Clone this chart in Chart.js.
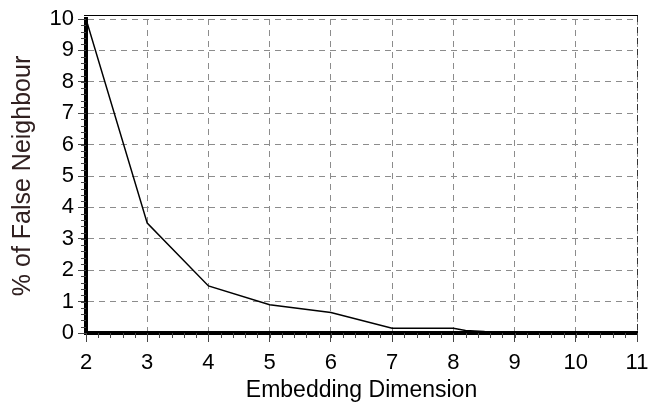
<!DOCTYPE html>
<html>
<head>
<meta charset="utf-8">
<script src="https://cdn.jsdelivr.net/npm/chart.js@4"></script>
<style>
html,body{margin:0;padding:0;background:#fff;}
#wrap{width:662px;height:405px;position:relative;}
</style>
</head>
<body>
<div id="wrap"><canvas id="c" width="662" height="405"></canvas></div>
<script>
// Data
const dimensions = [2, 3, 4, 5, 6, 7, 8, 8.2, 8.5, 8.6, 9, 10, 11];
const falseNeighbourPct = [10, 3.5, 1.5, 0.9, 0.65, 0.15, 0.15, 0.08, 0.05, 0, 0, 0, 0];
const xTickValues = [2, 3, 4, 5, 6, 7, 8, 9, 10, 11];
const yTickValues = [0, 1, 2, 3, 4, 5, 6, 7, 8, 9, 10];
const xTitle = "Embedding Dimension";
const yTitle = "% of False Neighbour";

const points = dimensions.map((d, i) => ({x: d, y: falseNeighbourPct[i]}));
const FONT = "'Liberation Sans', Arial, sans-serif";

const framePlugin = {
  id: 'frame',
  afterDraw(chart) {
    const ctx = chart.ctx;
    const xs = chart.scales.x, ys = chart.scales.y;
    const a = chart.chartArea;
    ctx.save();
    // top border
    ctx.strokeStyle = '#000';
    ctx.lineWidth = 1;
    ctx.beginPath();
    ctx.moveTo(a.left - 2, a.top - 3.5);
    ctx.lineTo(a.right + 1, a.top - 3.5);
    ctx.stroke();
    // right border, dashed dark
    ctx.strokeStyle = '#333';
    ctx.setLineDash([6, 5]);
    ctx.beginPath();
    ctx.moveTo(a.right + 0.5, a.top - 3);
    ctx.lineTo(a.right + 0.5, a.bottom);
    ctx.stroke();
    ctx.setLineDash([]);
    // minor ticks
    ctx.strokeStyle = '#444';
    ctx.lineWidth = 1;
    ctx.beginPath();
    for (let v = xs.min; v <= xs.max + 1e-9; v += 0.2) {
      const px = Math.round(xs.getPixelForValue(v)) + 0.5;
      ctx.moveTo(px, a.bottom);
      ctx.lineTo(px, a.bottom + 5);
    }
    for (let v = ys.min; v <= ys.max + 1e-9; v += 0.2) {
      const py = Math.round(ys.getPixelForValue(v)) + 0.5;
      ctx.moveTo(a.left, py);
      ctx.lineTo(a.left - 5, py);
    }
    ctx.stroke();
    ctx.restore();
  }
};

new Chart(document.getElementById('c'), {
  type: 'line',
  data: {
    datasets: [{
      data: points,
      borderColor: '#000',
      borderWidth: 1.5,
      pointRadius: 0,
      tension: 0,
      fill: false
    }]
  },
  options: {
    responsive: false,
    animation: false,
    events: [],
    layout: {padding: {top: 19, right: 25, left: 0, bottom: 0}},
    plugins: {legend: {display: false}, tooltip: {enabled: false}},
    scales: {
      x: {
        type: 'linear',
        min: 2, max: 11,
        afterBuildTicks: s => { s.ticks = xTickValues.map(v => ({value: v})); },
        afterFit: s => { s.height = 72; },
        ticks: {color: '#000', font: {family: FONT, size: 22}, padding: 8, maxRotation: 0, autoSkip: false},
        grid: {color: '#8c8c8c', lineWidth: 1, tickLength: 9, tickColor: '#444', tickBorderDash: [], drawOnChartArea: true},
        border: {color: '#000', width: 4, dash: [6, 5]},
        title: {display: true, text: xTitle, color: '#000', font: {family: FONT, size: 23}, padding: {top: 0, bottom: 1}}
      },
      y: {
        type: 'linear',
        min: 0, max: 10,
        afterBuildTicks: s => { s.ticks = yTickValues.map(v => ({value: v})); },
        afterFit: s => { s.width = 86; },
        ticks: {color: '#000', font: {family: FONT, size: 22}, padding: 4, autoSkip: false},
        grid: {color: '#8c8c8c', lineWidth: 1, tickLength: 8, tickColor: '#444', tickBorderDash: []},
        border: {color: '#000', width: 4, dash: [6, 5]},
        title: {display: true, text: yTitle, color: '#302020', font: {family: FONT, size: 25}, padding: {top: 8, bottom: 0}}
      }
    }
  },
  plugins: [framePlugin]
});
</script>
</body>
</html>
